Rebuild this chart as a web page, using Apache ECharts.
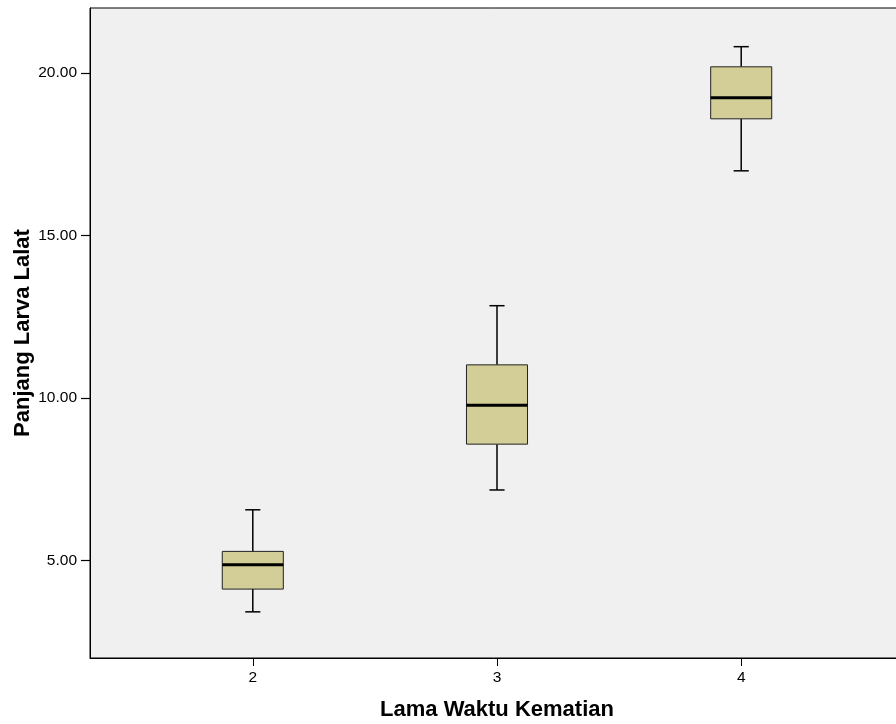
<!DOCTYPE html>
<html>
<head>
<meta charset="utf-8">
<script src="https://cdn.jsdelivr.net/npm/echarts@6/dist/echarts.min.js"></script>
<style>html,body{margin:0;padding:0;background:#fff}#c{width:896px;height:724px}</style>
</head>
<body>
<div id="c"></div>
<script>
const categories = [2, 3, 4];
const mins    = [3.42, 7.17, 16.99];
const q1s     = [4.12, 8.58, 18.59];
const medians = [4.87, 9.78, 19.24];
const q3s     = [5.28, 11.02, 20.19];
const maxs    = [6.56, 12.84, 20.81];
const yTicks = [5, 10, 15, 20];

const data = categories.map((c, i) => [c, mins[i], q1s[i], medians[i], q3s[i], maxs[i]]);
const font = '"Liberation Sans", Arial, sans-serif';

const chart = echarts.init(document.getElementById('c'), null, {renderer: 'canvas'});
chart.setOption({
  animation: false,
  grid: {
    left: 90, top: 8, width: 814, height: 650,
    outerBoundsMode: 'none', containLabel: false,
    show: true, backgroundColor: '#f0f0f0', borderColor: '#000', borderWidth: 1
  },
  xAxis: {
    type: 'value', min: 4/3, max: 14/3,
    name: 'Lama Waktu Kematian', nameLocation: 'middle', nameGap: 41, nameMoveOverlap: false,
    nameTextStyle: {fontFamily: font, fontSize: 22, fontWeight: 'bold', color: '#000'},
    axisLine: {show: true, onZero: false, lineStyle: {color: '#000', width: 1}},
    axisTick: {show: true, length: 8, customValues: categories, lineStyle: {color: '#000'}},
    axisLabel: {customValues: categories, margin: 12, fontFamily: font, fontSize: 15.5, color: '#000'},
    splitLine: {show: false}
  },
  yAxis: {
    type: 'value', min: 2, max: 22,
    name: 'Panjang Larva Lalat', nameLocation: 'middle', nameGap: 56, nameMoveOverlap: false,
    nameTextStyle: {fontFamily: font, fontSize: 22, fontWeight: 'bold', color: '#000'},
    axisLine: {show: true, onZero: false, lineStyle: {color: '#000', width: 1}},
    axisTick: {show: true, length: 9, customValues: yTicks, lineStyle: {color: '#000', width: 1.2}},
    axisLabel: {customValues: yTicks, margin: 13, fontFamily: font, fontSize: 15.5, color: '#000',
      formatter: v => v.toFixed(2)},
    splitLine: {show: false}
  },
  series: [{
    type: 'custom',
    data: data,
    encode: {x: 0, y: [1, 2, 3, 4, 5]},
    renderItem: function (params, api) {
      const x = api.value(0);
      const band = api.size([1, 0])[0];
      const hw = band * 0.125;
      const cw = band * 0.031;
      const pMin = api.coord([x, api.value(1)]);
      const pQ1 = api.coord([x, api.value(2)]);
      const pMed = api.coord([x, api.value(3)]);
      const pQ3 = api.coord([x, api.value(4)]);
      const pMax = api.coord([x, api.value(5)]);
      const cx = pMed[0];
      const line = {stroke: '#000', lineWidth: 1.5};
      return {
        type: 'group',
        children: [
          {type: 'line', shape: {x1: cx, y1: pMax[1], x2: cx, y2: pQ3[1]}, style: line},
          {type: 'line', shape: {x1: cx, y1: pQ1[1], x2: cx, y2: pMin[1]}, style: line},
          {type: 'line', shape: {x1: cx - cw, y1: pMax[1], x2: cx + cw, y2: pMax[1]}, style: line},
          {type: 'line', shape: {x1: cx - cw, y1: pMin[1], x2: cx + cw, y2: pMin[1]}, style: line},
          {type: 'rect', shape: {x: cx - hw, y: pQ3[1], width: hw * 2, height: pQ1[1] - pQ3[1]},
            style: {fill: '#d3ce97', stroke: '#222', lineWidth: 1}},
          {type: 'line', shape: {x1: cx - hw, y1: pMed[1], x2: cx + hw, y2: pMed[1]},
            style: {stroke: '#000', lineWidth: 3}}
        ]
      };
    }
  }]
});
</script>
</body>
</html>
